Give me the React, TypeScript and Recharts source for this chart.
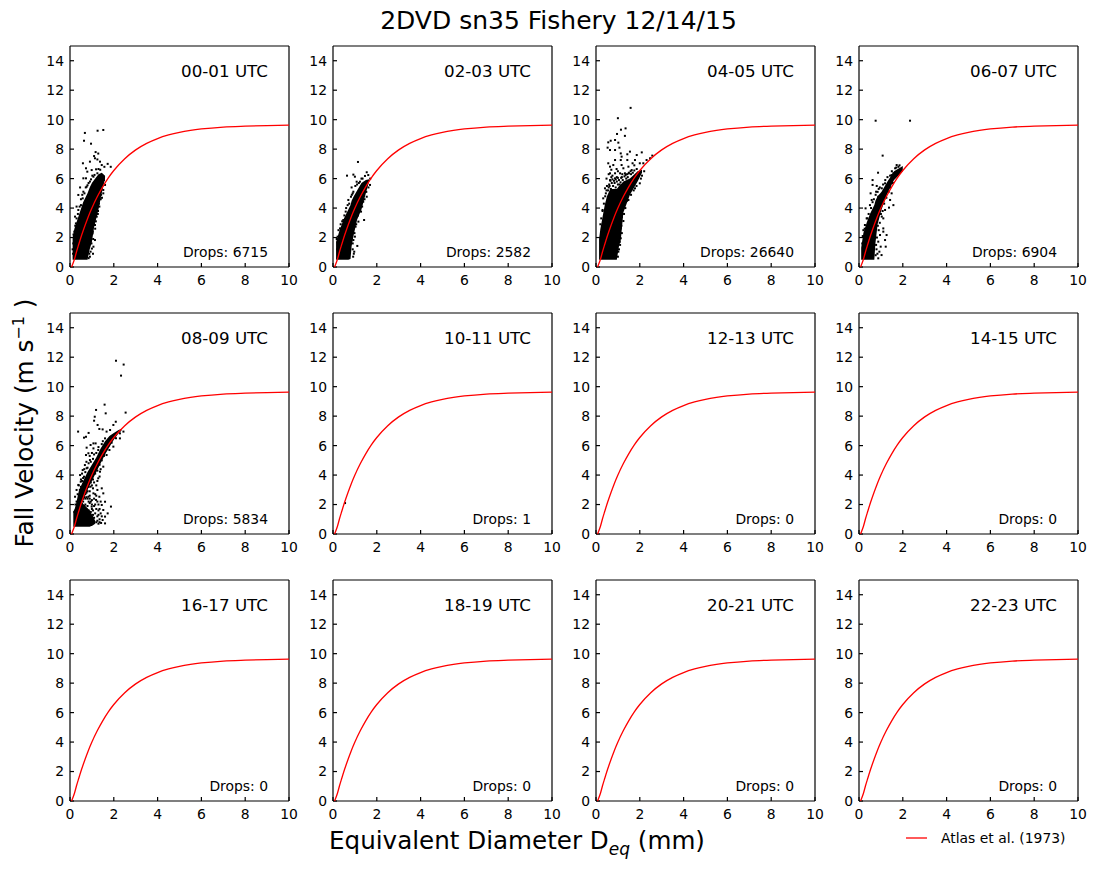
import React from "react"
import { ComposedChart, Area, Line, Scatter, XAxis, YAxis } from "recharts"

const hourLabels = [
  "00-01 UTC", "02-03 UTC", "04-05 UTC", "06-07 UTC",
  "08-09 UTC", "10-11 UTC", "12-13 UTC", "14-15 UTC",
  "16-17 UTC", "18-19 UTC", "20-21 UTC", "22-23 UTC",
]
const dropCounts = [6715, 2582, 26640, 6904, 5834, 1, 0, 0, 0, 0, 0, 0]

const xTicks = [0, 2, 4, 6, 8, 10]
const yTicks = [0, 2, 4, 6, 8, 10, 12, 14]

// red reference curve
const atlasD = [0.07, 0.2, 0.3, 0.4, 0.5, 0.6, 0.8, 1, 1.25, 1.5, 1.75, 2, 2.5, 3, 3.5, 4, 4.5, 5, 5.5, 6, 7, 8, 9, 10]
const atlasV = [0, 0.51, 1.05, 1.54, 2.02, 2.46, 3.28, 4.0, 4.78, 5.46, 6.05, 6.55, 7.35, 7.95, 8.39, 8.72, 8.96, 9.14, 9.27, 9.37, 9.5, 9.56, 9.6, 9.63]
const atlas = atlasD.map((d, i) => ({ d, v: atlasV[i] }))

// dense parts of the drop clouds: [diameter, low velocity, high velocity]
const core0 = [[0.12, 0.5, 2], [0.2, 0.5, 2.6], [0.4, 0.5, 3.5], [0.6, 0.5, 4.4], [0.8, 0.5, 5.0], [0.9, 1.2, 5.4], [1.0, 1.7, 5.7], [1.1, 2.7, 5.9], [1.3, 3.9, 6.3], [1.45, 5, 6.4], [1.6, 6, 6.2]]
const core1 = [[0.14, 0.5, 1.7], [0.3, 0.5, 2.5], [0.5, 0.5, 3.3], [0.7, 0.5, 3.9], [0.8, 0.55, 4.2], [0.85, 1.4, 4.5], [0.95, 2.2, 4.8], [1.1, 3.2, 5.2], [1.3, 3.9, 5.7], [1.5, 5, 5.9], [1.65, 5.8, 5.95]]
const core2 = [[0.14, 0.5, 1.9], [0.2, 0.5, 2.6], [0.3, 0.5, 3.4], [0.4, 0.5, 4.2], [0.5, 0.5, 4.8], [0.65, 0.5, 5.3], [0.85, 0.5, 5.3], [0.95, 0.5, 5.3], [1.05, 1.4, 5.5], [1.13, 1.8, 5.6], [1.25, 3.7, 5.8], [1.55, 4.9, 6.0], [1.9, 5.8, 6.5], [2.1, 6.4, 6.6]]
const core3 = [[0.1, 0.5, 1.3], [0.2, 0.5, 2.3], [0.35, 0.5, 3.0], [0.5, 0.5, 3.6], [0.7, 0.5, 4.2], [0.75, 1.6, 4.5], [0.85, 2.9, 4.8], [1.03, 3.9, 5.1], [1.3, 5, 5.8], [1.6, 5.9, 6.5], [2, 6.5, 6.85]]
const core4a = [[0.15, 0.5, 1.5], [0.3, 0.5, 2.0], [0.5, 0.5, 2.2], [0.7, 0.5, 1.9], [0.9, 0.5, 1.6], [1.05, 0.6, 1.2], [1.15, 0.7, 0.9]]
const core4b = [[0.2, 1.0, 1.5], [0.4, 1.6, 2.9], [0.6, 2.3, 3.6], [0.8, 3.0, 4.2], [1.0, 3.6, 4.7], [1.2, 4.2, 5.2], [1.4, 4.8, 5.8], [1.6, 5.4, 6.3], [1.8, 5.9, 6.65], [2.0, 6.4, 6.85], [2.2, 6.8, 7.05], [2.35, 7, 7.15]]

// single drops around the clouds: [diameter, velocity]
const drops0 = [[0.68, 9.1], [1.26, 9.25], [1.52, 9.3], [0.64, 8.57], [0.96, 8.37], [1.17, 7.8], [1.29, 7.7], [1.1, 7.53], [0.91, 7.15], [1.14, 7.38], [0.59, 7.04], [1.25, 7.3], [1.37, 7.15], [1.45, 6.92], [1.72, 7.0], [1.57, 6.8], [1.86, 6.8], [0.73, 6.7], [0.79, 6.47], [0.99, 6.58], [1.19, 6.63], [0.61, 6.02], [0.73, 6.02], [1.07, 6.13], [1.25, 6.36], [0.46, 5.4], [0.61, 5.11], [0.76, 5.45], [0.91, 5.8], [0.38, 4.89], [0.58, 4.66], [0.3, 4.1], [0.38, 3.87], [0.23, 3.42], [0.27, 2.96], [1.6, 5.57], [1.52, 5.23], [1.4, 4.6], [1.34, 4.1], [1.22, 3.42], [1.14, 2.85], [1.03, 2.28], [1.14, 1.83], [1.07, 1.38], [0.94, 1.04], [0.91, 0.7], [0.18, 0.7], [0.85, 5.7], [1.5, 6.1], [0.5, 4.2], [0.16, 2.2], [0.12, 1.2], [1.55, 5.9], [1.42, 4.9], [1.28, 3.8],
  [0.15, 1.6], [0.14, 0.9], [0.2, 2.4], [0.24, 2.8], [0.3, 3.3], [0.36, 3.6], [0.44, 4.1], [0.5, 4.6], [0.56, 4.9], [0.66, 5.0], [0.72, 5.4], [0.8, 5.55], [0.96, 5.95], [1.02, 6.2], [1.12, 6.25], [1.3, 6.65], [1.38, 6.6], [1.05, 0.9], [1.0, 1.25], [0.98, 1.6], [1.06, 1.9], [1.04, 2.4], [1.15, 2.6], [1.18, 3.1], [1.27, 3.6], [1.32, 4.3], [1.46, 4.7], [1.52, 5.0], [0.88, 0.9], [0.85, 0.6]]
const drops1 = [[1.14, 7.13], [0.64, 6.2], [0.93, 6.27], [1.0, 6.13], [1.54, 6.43], [1.61, 6.24], [1.46, 6.18], [1.23, 5.79], [1.08, 5.79], [0.85, 5.4], [0.93, 5.11], [0.82, 4.77], [0.7, 4.55], [0.67, 4.2], [0.58, 3.76], [0.47, 3.19], [0.32, 2.62], [0.21, 2.06], [1.42, 3.19], [1.69, 5.57], [1.54, 4.77], [1.38, 4.43], [1.28, 3.76], [1.16, 3.08], [1.03, 2.74], [1.0, 2.06], [1.11, 1.43], [0.97, 1.04], [0.93, 1.83], [0.17, 1.9], [0.25, 2.5], [1.7, 6.0], [0.92, 0.7], [1.1, 5.6], [1.35, 6.0],
  [0.19, 1.2], [0.22, 1.7], [0.35, 2.9], [0.42, 3.1], [0.52, 3.5], [0.6, 4.0], [0.74, 4.3], [0.86, 4.9], [0.9, 5.0], [1.02, 5.5], [1.18, 5.7], [1.3, 6.0], [0.95, 0.9], [0.9, 1.2], [0.9, 1.6], [0.98, 2.3], [1.06, 2.9], [1.14, 3.5], [1.22, 3.9], [1.33, 4.1], [1.44, 4.6], [1.52, 5.1], [1.62, 5.4], [1.1, 4.8]]
const drops2 = [[1.58, 10.8], [1.0, 10.1], [1.14, 9.32], [1.35, 9.41], [0.96, 9.03], [1.32, 8.9], [0.67, 8.57], [0.56, 8.46], [1.02, 8.44], [0.87, 8.62], [0.53, 8.1], [0.64, 7.94], [0.87, 7.94], [1.07, 8.1], [1.55, 7.83], [1.43, 7.65], [1.13, 7.71], [1.17, 7.49], [2.09, 7.78], [1.86, 7.6], [2.57, 7.56], [2.47, 7.38], [2.31, 7.26], [1.78, 7.26], [1.43, 7.26], [1.13, 7.26], [0.87, 7.26], [0.56, 7.04], [0.64, 6.81], [0.79, 6.92], [0.94, 6.65], [1.17, 6.92], [1.48, 6.81], [1.67, 7.04], [2.0, 7.04], [2.16, 7.04], [0.64, 6.36], [0.87, 6.36], [1.1, 6.36], [1.32, 6.36], [1.63, 6.58], [1.86, 6.65], [0.64, 5.9], [0.87, 6.02], [0.41, 5.34], [0.33, 4.66], [0.3, 3.87], [2.0, 5.68], [1.78, 5.34], [1.48, 4.55], [1.25, 3.12], [1.13, 2.62], [1.13, 1.95], [1.02, 1.04], [0.75, 6.2], [1.0, 6.5], [1.25, 6.7], [0.7, 6.6], [1.5, 6.4], [0.5, 5.5], [1.75, 6.9], [2.05, 6.0], [2.2, 6.5], [1.95, 6.3], [1.1, 1.5], [1.18, 3.4], [0.45, 5.0],
  [0.55, 5.2], [0.6, 5.6], [0.68, 5.3], [0.72, 5.7], [0.78, 5.5], [0.82, 5.85], [0.9, 5.4], [0.95, 5.8], [1.0, 5.6], [1.05, 5.9], [1.12, 5.75], [1.18, 6.1], [1.22, 5.9], [1.3, 6.15], [1.38, 6.0], [1.42, 6.3], [1.5, 6.35], [1.58, 6.5], [1.68, 6.4], [1.75, 6.55], [0.2, 2.9], [0.24, 3.3], [0.3, 3.8], [0.36, 4.3], [0.42, 4.8], [0.48, 5.2], [1.0, 0.7], [1.05, 1.2], [1.08, 1.7], [1.18, 2.3], [1.16, 2.8], [1.28, 3.6], [1.34, 4.0], [1.42, 4.5], [1.6, 4.9], [1.72, 5.2], [1.85, 5.5], [2.1, 6.2], [0.48, 6.0], [0.58, 6.3], [0.7, 6.1], [0.95, 6.1], [1.2, 6.3],
  [0.62, 5.5], [0.66, 5.85], [0.75, 5.95], [0.85, 5.7], [0.9, 5.95], [1.0, 6.05], [1.08, 5.6], [1.15, 6.05], [0.58, 5.4], [1.35, 6.25], [1.6, 6.3], [1.45, 6.1]]
const drops3 = [[0.76, 9.93], [2.33, 9.93], [1.08, 7.56], [1.72, 6.92], [0.87, 6.4], [0.62, 5.9], [0.62, 5.57], [0.81, 5.5], [0.53, 5], [0.78, 5.11], [0.58, 4.55], [0.5, 4.2], [0.3, 3.98], [1.57, 4.2], [1.37, 4.03], [1.11, 3.3], [0.35, 3.3], [0.27, 2.85], [1.11, 2.62], [1.11, 2.4], [1.26, 2.17], [0.96, 2.17], [0.88, 1.72], [1.19, 1.83], [1.22, 1.38], [0.99, 1.38], [0.93, 1.04], [1.03, 0.81], [0.88, 0.59], [1.57, 6.36], [1.49, 6.24], [1.19, 5.68], [1.04, 5.34], [0.88, 4.77], [1.49, 5], [1.42, 4.55], [1.19, 3.87], [1.04, 3.42], [0.17, 2.1], [0.9, 5.3], [1.8, 6.8], [1.65, 6.7],
  [0.76, 0.8], [0.8, 1.2], [0.78, 1.5], [0.84, 0.9], [0.82, 2.0], [0.9, 2.5], [0.86, 2.8], [0.95, 3.0], [1.0, 3.6], [1.08, 3.8], [1.15, 4.3], [1.25, 4.7], [1.35, 5.1], [1.42, 5.4], [1.55, 5.7], [0.15, 1.6], [0.2, 2.5], [0.26, 2.6], [0.38, 3.3], [0.44, 3.6], [0.55, 4.0], [0.62, 4.4], [0.68, 4.6], [0.76, 4.9], [0.85, 5.1], [0.95, 5.4], [1.1, 5.6], [1.2, 5.9], [1.3, 6.1], [1.42, 6.2], [1.5, 6.5], [1.7, 6.75], [1.85, 6.9]]
const drops4 = [[2.1, 11.76], [2.45, 11.5], [2.33, 10.75], [1.58, 8.78], [1.19, 8.42], [1.63, 8.19], [1.13, 7.96], [2.54, 8.24], [1.1, 7.69], [1.26, 7.4], [1.34, 7.13], [1.49, 7.1], [0.37, 6.95], [0.85, 6.86], [0.73, 6.6], [0.64, 6.54], [2.09, 7.62], [1.98, 7.4], [1.83, 7.06], [1.67, 6.95], [1.6, 6.49], [1.07, 6.15], [1.17, 6.15], [0.94, 6.04], [0.76, 5.86], [0.84, 5.48], [0.73, 5.36], [1.07, 5.81], [1.29, 5.7], [0.91, 5.02], [0.68, 4.68], [0.58, 4.34], [0.76, 4.46], [0.46, 4], [0.64, 3.89], [0.49, 3.55], [0.38, 3.33], [0.3, 2.99], [0.23, 2.53], [2.28, 6.49], [2.28, 6.83], [2.44, 6.95], [1.98, 5.93], [1.8, 5.7], [1.67, 5.36], [1.52, 4.57], [1.37, 4.23], [1.29, 3.78], [1.45, 3.1], [1.25, 2.99], [1.52, 2.76], [1.34, 2.53], [1.6, 2.19], [1.45, 1.97], [1.87, 1.86], [1.52, 1.63], [1.72, 1.4], [1.6, 1.18], [1.49, 0.95], [1.6, 0.72], [1.19, 2.31], [1.07, 2.76], [0.94, 3.21], [0.84, 2.53], [0.68, 2.87], [0.99, 1.86], [1.1, 3.5], [1.0, 2.3], [0.8, 2.9], [0.9, 2.6], [1.2, 3.3], [1.3, 1.6], [1.25, 1.2], [1.35, 1.0], [1.15, 2.0], [0.55, 2.6], [0.7, 2.4], [1.4, 2.2], [1.05, 3.1],
  [0.2, 1.5], [0.25, 2], [0.3, 2.2], [0.35, 2.0], [0.4, 2.3], [0.45, 2.1], [0.5, 2.4], [0.55, 2.0], [0.6, 2.2], [0.65, 1.9], [0.7, 2.0], [0.75, 1.7], [0.8, 1.9], [0.85, 1.6], [0.9, 2.1], [0.95, 1.5], [1.0, 1.7], [1.05, 1.3], [1.1, 1.1], [1.15, 1.4], [1.2, 0.8], [1.25, 0.9], [1.3, 0.7], [0.35, 2.7], [0.45, 3.0], [0.5, 3.2], [0.55, 3.6], [0.6, 3.8], [0.7, 4.2], [0.8, 4.5], [0.85, 4.8], [0.95, 4.9], [1.05, 5.1], [1.1, 5.4], [1.2, 5.5], [1.3, 5.9], [1.45, 6.1], [1.5, 6.3], [0.75, 3.0], [0.85, 3.2], [0.95, 3.5], [1.05, 3.7], [1.15, 4.1], [1.25, 4.3], [1.35, 4.7], [1.45, 5.0], [1.55, 5.3], [1.65, 5.7], [1.75, 6], [1.9, 6.2], [2.1, 6.5], [0.6, 2.7], [0.9, 2.9], [1.0, 3.3], [1.1, 2.4], [0.75, 2.5],
  [0.6, 2.4], [0.65, 2.5], [0.7, 2.7], [0.75, 2.8], [0.8, 2.4], [0.85, 2.2], [0.9, 2.4], [0.95, 2.2], [1.0, 2.0], [1.05, 1.6], [1.1, 1.9], [1.2, 1.7], [1.15, 2.7], [1.2, 2.6], [1.25, 2.2], [1.3, 2.0], [1.35, 1.7], [1.3, 1.3], [1.4, 1.4], [1.45, 1.2], [1.35, 0.8], [1.42, 0.75], [1.25, 3.6], [1.35, 3.9], [1.4, 4.4], [0.4, 3.3], [0.5, 3.7], [0.55, 4.1], [0.65, 4.4], [0.75, 4.9], [0.9, 5.3], [1.0, 5.5]]
const drops5 = [[0.55, 2.1]]

const panelCores = [[core0], [core1], [core2], [core3], [core4a, core4b], [], [], [], [], [], [], []]
const panelDrops = [drops0, drops1, drops2, drops3, drops4, drops5, [], [], [], [], [], []]

const plotLefts = [70, 333, 596, 859]
const plotTops = [46, 313, 580]
const plotW = 219
const plotH = 221
const font = "'DejaVu Sans', sans-serif"

const tickStyle = { fill: "#000", fontSize: 13.9, fontFamily: font }
const frame = { stroke: "#000", strokeWidth: 1.2 }

function DropMark(props: any) {
  return <rect x={props.cx - 1} y={props.cy - 1} width={2} height={2} fill="#000" />
}

function Panel({ index }: { index: number }) {
  const left = plotLefts[index % 4]
  const top = plotTops[Math.floor(index / 4)]
  const points = panelDrops[index].map(([d, v]) => ({ d, v }))
  return (
    <div style={{ position: "absolute", left: left - 40, top: top - 10, width: plotW + 60, height: plotH + 40 }}>
      <ComposedChart
        width={plotW + 60}
        height={plotH + 40}
        margin={{ top: 9, right: 19, bottom: 0, left: 0 }}
      >
        <XAxis
          dataKey="d"
          type="number"
          domain={[0, 10]}
          ticks={xTicks}
          interval={0}
          height={30}
          axisLine={frame}
          tickLine={frame}
          tickSize={-4}
          tickMargin={12}
          tick={tickStyle}
        />
        <XAxis
          xAxisId="top"
          orientation="top"
          type="number"
          domain={[0, 10]}
          ticks={xTicks}
          interval={0}
          height={1}
          axisLine={frame}
          tickLine={frame}
          tickSize={-4}
          tick={false}
        />
        <YAxis
          dataKey="v"
          type="number"
          domain={[0, 15]}
          ticks={yTicks}
          interval={0}
          width={40}
          axisLine={frame}
          tickLine={frame}
          tickSize={-4}
          tickMargin={10}
          tick={tickStyle}
        />
        <YAxis
          yAxisId="right"
          orientation="right"
          type="number"
          domain={[0, 15]}
          ticks={yTicks}
          interval={0}
          width={1}
          axisLine={frame}
          tickLine={frame}
          tickSize={-4}
          tick={false}
        />
        {panelCores[index].map((core, i) => (
          <Area
            key={i}
            data={core.map(([d, low, high]) => ({ d, band: [low, high] }))}
            dataKey="band"
            type="linear"
            fill="#000"
            fillOpacity={1}
            stroke="none"
            dot={false}
            activeDot={false}
            isAnimationActive={false}
          />
        ))}
        <Scatter data={points} shape={DropMark} isAnimationActive={false} />
        <Line
          data={atlas}
          dataKey="v"
          type="monotone"
          stroke="#ff0000"
          strokeWidth={1.3}
          dot={false}
          activeDot={false}
          isAnimationActive={false}
          {...({ zIndex: 700 } as any)}
        />
      </ComposedChart>
      <div style={{ position: "absolute", right: 41, top: 25, fontFamily: font, fontSize: 16.7, lineHeight: "20px", whiteSpace: "nowrap" }}>
        {hourLabels[index]}
      </div>
      <div style={{ position: "absolute", right: 41, top: 208, fontFamily: font, fontSize: 13.9, lineHeight: "16px", whiteSpace: "nowrap" }}>
        Drops: {dropCounts[index]}
      </div>
    </div>
  )
}

export default function App() {
  return (
    <div style={{ position: "absolute", left: 0, top: 0, width: 1094, height: 872, background: "#fff", fontFamily: font, color: "#000", overflow: "hidden" }}>
      <div style={{ position: "absolute", left: 0, width: 1117, top: 6, textAlign: "center", fontSize: 25, lineHeight: "30px" }}>
        2DVD sn35 Fishery 12/14/15
      </div>
      {hourLabels.map((_, i) => (
        <Panel key={i} index={i} />
      ))}
      <div style={{ position: "absolute", left: 25, top: 423, transform: "translate(-50%, -50%) rotate(-90deg)", fontSize: 24.7, lineHeight: "30px", whiteSpace: "nowrap" }}>
        Fall Velocity (m s<sup style={{ fontSize: 16, lineHeight: 0 }}>−1</sup> )
      </div>
      <div style={{ position: "absolute", left: 329, top: 826, fontSize: 24.6, lineHeight: "30px", whiteSpace: "nowrap" }}>
        Equivalent Diameter D<sub style={{ fontSize: 17, lineHeight: 0, fontStyle: "italic" }}>eq</sub> (mm)
      </div>
      <svg style={{ position: "absolute", left: 906, top: 832 }} width={22} height={12}>
        <line x1={0} x2={21} y1={6} y2={6} stroke="#ff0000" strokeWidth={1.3} />
      </svg>
      <div style={{ position: "absolute", left: 941, top: 830, fontSize: 13.9, lineHeight: "16px", whiteSpace: "nowrap" }}>
        Atlas et al. (1973)
      </div>
    </div>
  )
}
